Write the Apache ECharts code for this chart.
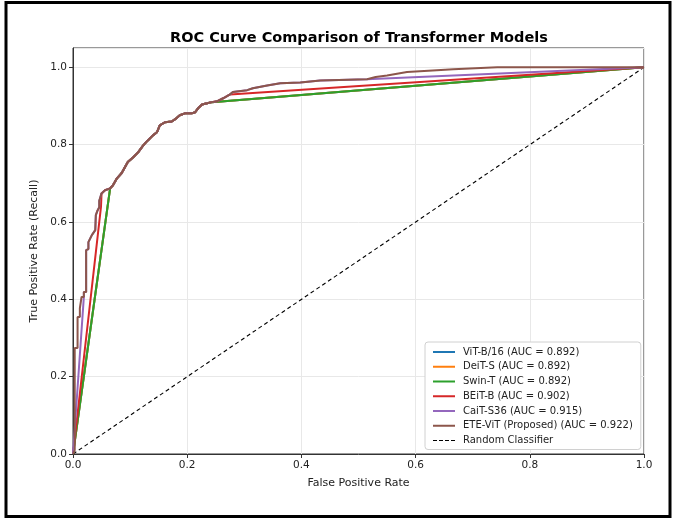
<!DOCTYPE html>
<html>
<head>
<meta charset="utf-8">
<script src="https://cdn.jsdelivr.net/npm/echarts@6/dist/echarts.min.js"></script>
<style>
html,body{margin:0;padding:0;background:#fff;}
#chart{width:675px;height:519px;}
</style>
</head>
<body>
<div id="chart"></div>
<script>
// ---- Data ----
const titleText = "ROC Curve Comparison of Transformer Models";
const xAxisName = "False Positive Rate";
const yAxisName = "True Positive Rate (Recall)";
const seriesNames = [
  "ViT-B/16 (AUC = 0.892)",
  "DeiT-S (AUC = 0.892)",
  "Swin-T (AUC = 0.892)",
  "BEiT-B (AUC = 0.902)",
  "CaiT-S36 (AUC = 0.915)",
  "ETE-ViT (Proposed) (AUC = 0.922)",
  "Random Classifier"
];
const seriesColors = ["#1f77b4","#ff7f0e","#2ca02c","#d62728","#9467bd","#8c564b","#000000"];

// ViT-B/16, DeiT-S and Swin-T coincide (all hidden under Swin-T)
const vitB16 = [[0,0],[0.065,0.687],[0.070,0.695],[0.077,0.713],[0.085,0.726],[0.088,0.734],[0.096,0.755],[0.105,0.767],[0.114,0.780],[0.123,0.798],[0.131,0.811],[0.140,0.824],[0.147,0.832],[0.152,0.850],[0.161,0.858],[0.173,0.860],[0.179,0.866],[0.187,0.876],[0.196,0.881],[0.208,0.881],[0.214,0.884],[0.219,0.894],[0.226,0.904],[0.235,0.907],[0.243,0.910],[1,1]];
const deitS = [[0,0],[0.065,0.687],[0.070,0.695],[0.077,0.713],[0.085,0.726],[0.088,0.734],[0.096,0.755],[0.105,0.767],[0.114,0.780],[0.123,0.798],[0.131,0.811],[0.140,0.824],[0.147,0.832],[0.152,0.850],[0.161,0.858],[0.173,0.860],[0.179,0.866],[0.187,0.876],[0.196,0.881],[0.208,0.881],[0.214,0.884],[0.219,0.894],[0.226,0.904],[0.235,0.907],[0.243,0.910],[1,1]];
const swinT = [[0,0],[0.065,0.687],[0.070,0.695],[0.077,0.713],[0.085,0.726],[0.088,0.734],[0.096,0.755],[0.105,0.767],[0.114,0.780],[0.123,0.798],[0.131,0.811],[0.140,0.824],[0.147,0.832],[0.152,0.850],[0.161,0.858],[0.173,0.860],[0.179,0.866],[0.187,0.876],[0.196,0.881],[0.208,0.881],[0.214,0.884],[0.219,0.894],[0.226,0.904],[0.235,0.907],[0.243,0.910],[1,1]];
const beitB = [[0,0],[0.049,0.639],[0.050,0.674],[0.056,0.682],[0.065,0.687],[0.070,0.695],[0.077,0.713],[0.085,0.726],[0.088,0.734],[0.096,0.755],[0.105,0.767],[0.114,0.780],[0.123,0.798],[0.131,0.811],[0.140,0.824],[0.147,0.832],[0.152,0.850],[0.161,0.858],[0.173,0.860],[0.179,0.866],[0.187,0.876],[0.196,0.881],[0.208,0.881],[0.214,0.884],[0.219,0.894],[0.226,0.904],[0.235,0.907],[0.243,0.910],[0.252,0.912],[0.263,0.920],[0.275,0.930],[1,1]];
const caitS36 = [[0,0],[0.019,0.406],[0.019,0.419],[0.023,0.419],[0.023,0.527],[0.027,0.530],[0.027,0.548],[0.033,0.566],[0.039,0.579],[0.040,0.618],[0.043,0.630],[0.046,0.638],[0.046,0.655],[0.050,0.674],[0.056,0.682],[0.065,0.687],[0.070,0.695],[0.077,0.713],[0.085,0.726],[0.088,0.734],[0.096,0.755],[0.105,0.767],[0.114,0.780],[0.123,0.798],[0.131,0.811],[0.140,0.824],[0.147,0.832],[0.152,0.850],[0.161,0.858],[0.173,0.860],[0.179,0.866],[0.187,0.876],[0.196,0.881],[0.208,0.881],[0.214,0.884],[0.219,0.894],[0.226,0.904],[0.235,0.907],[0.243,0.910],[0.252,0.912],[0.263,0.920],[0.275,0.930],[0.280,0.936],[0.305,0.941],[0.315,0.946],[0.340,0.953],[0.363,0.959],[0.398,0.961],[0.433,0.966],[0.515,0.969],[1,1]];
const eteViT = [[0,0],[0.003,0.010],[0.003,0.274],[0.008,0.274],[0.008,0.354],[0.012,0.354],[0.012,0.377],[0.015,0.377],[0.015,0.406],[0.019,0.406],[0.019,0.419],[0.023,0.419],[0.023,0.527],[0.027,0.530],[0.027,0.548],[0.033,0.566],[0.039,0.579],[0.040,0.618],[0.043,0.630],[0.046,0.638],[0.046,0.655],[0.050,0.674],[0.056,0.682],[0.065,0.687],[0.070,0.695],[0.077,0.713],[0.085,0.726],[0.088,0.734],[0.096,0.755],[0.105,0.767],[0.114,0.780],[0.123,0.798],[0.131,0.811],[0.140,0.824],[0.147,0.832],[0.152,0.850],[0.161,0.858],[0.173,0.860],[0.179,0.866],[0.187,0.876],[0.196,0.881],[0.208,0.881],[0.214,0.884],[0.219,0.894],[0.226,0.904],[0.235,0.907],[0.243,0.910],[0.252,0.912],[0.263,0.920],[0.275,0.930],[0.280,0.936],[0.305,0.941],[0.315,0.946],[0.340,0.953],[0.363,0.959],[0.398,0.961],[0.433,0.966],[0.515,0.969],[0.530,0.975],[0.550,0.979],[0.585,0.988],[0.630,0.992],[0.666,0.995],[0.695,0.997],[0.743,1.0],[1,1]];
const randomClassifier = [[0,0],[1,1]];
const xTicks = [0,0.2,0.4,0.6,0.8,1.0];
const yTicks = [0,0.2,0.4,0.6,0.8,1.0];

// ---- Chart ----
const FONT = "DejaVu Sans";
const chart = echarts.init(document.getElementById('chart'), null, {renderer:'canvas'});
const allData = [vitB16, deitS, swinT, beitB, caitS36, eteViT, randomClassifier];
const series = allData.map((d, i) => ({
  name: seriesNames[i],
  type: 'line',
  data: d,
  symbol: 'none',
  showSymbol: false,
  animation: false,
  z: i === 6 ? 1 : 2 + i,
  lineStyle: i === 6
    ? {color: seriesColors[i], width: 1.1, type: [4, 3]}
    : {color: seriesColors[i], width: 2},
  itemStyle: {color: seriesColors[i]}
}));

const dashIcon = 'path://M0,0.5h4v1h-4zM6,0.5h4v1h-4zM12,0.5h4v1h-4zM18,0.5h4v1h-4zM0,0h0.01v0.01h-0.01zM0,2h0.01v-0.01h-0.01z';
const legendData = seriesNames.map((n, i) => ({
  name: n,
  icon: i === 6 ? dashIcon : 'rect',
  itemStyle: {color: seriesColors[i], borderWidth: 0}
}));

chart.setOption({
  animation: false,
  backgroundColor: '#ffffff',
  title: {
    text: titleText,
    left: 165, top: 26,
    textStyle: {fontFamily: FONT, fontSize: 14.5, fontWeight: 'bold', color: '#000'}
  },
  grid: {left: 73, top: 48, width: 571, height: 406, show: true,
         borderColor: '#333', borderWidth: 1, backgroundColor: 'transparent', containLabel: false},
  legend: {
    orient: 'vertical', left: 425, top: 342,
    data: legendData,
    itemWidth: 22, itemHeight: 2, itemGap: 2.75,
    backgroundColor: '#fff', borderColor: '#d0d0d0', borderWidth: 1, borderRadius: 3,
    padding: [4, 8, 3, 8],
    textStyle: {fontFamily: FONT, fontSize: 10, color: '#222', lineHeight: 12, padding: [0,0,0,3]}
  },
  xAxis: {
    type: 'value', min: 0, max: 1, interval: 0.2,
    name: xAxisName, nameLocation: 'middle', nameGap: 24,
    nameTextStyle: {fontFamily: FONT, fontSize: 11, color: '#222'},
    axisLine: {show: true, onZero: false, lineStyle: {color: '#333', width: 1}},
    axisTick: {show: true, length: 4, inside: false, lineStyle: {color: '#333'}},
    axisLabel: {fontFamily: FONT, fontSize: 10.5, color: '#222', margin: 6,
                formatter: v => xTicks.includes(+v.toFixed(1)) ? v.toFixed(1) : ''},
    splitLine: {show: true, lineStyle: {color: '#e8e8e8', width: 1}}
  },
  yAxis: {
    type: 'value', min: 0, max: 1.05, interval: 0.2,
    name: yAxisName, nameLocation: 'middle', nameGap: 30, nameRotate: 90,
    nameTextStyle: {fontFamily: FONT, fontSize: 11, color: '#222'},
    axisLine: {show: true, onZero: false, lineStyle: {color: '#333', width: 1}},
    axisTick: {show: true, length: 4, inside: false, lineStyle: {color: '#333'}},
    axisLabel: {fontFamily: FONT, fontSize: 10.5, color: '#222', margin: 6, showMaxLabel: false,
                formatter: v => yTicks.includes(+v.toFixed(1)) && v <= 1.0001 ? v.toFixed(1) : ''},
    splitLine: {show: true, lineStyle: {color: '#e8e8e8', width: 1}}
  },
  graphic: [{
    type: 'rect', silent: true, z: 100,
    shape: {x: 6, y: 2.5, width: 664, height: 514},
    style: {fill: 'none', stroke: '#000', lineWidth: 3}
  }],
  series: series
});
</script>
</body>
</html>
